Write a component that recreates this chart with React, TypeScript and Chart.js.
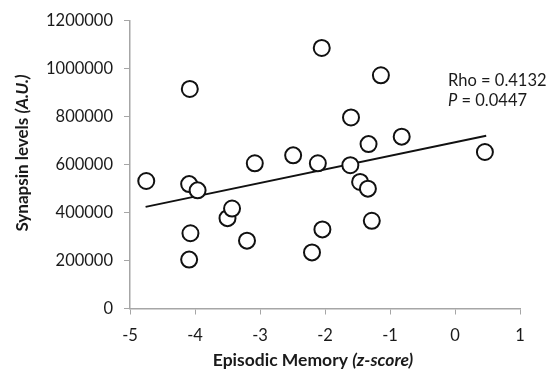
import React, { useEffect, useRef } from "react";
import { Chart, registerables } from "chart.js";

Chart.register(...registerables);

const memoryX = [
  -4.75, -4.08, -4.09, -3.96, -4.07, -4.09, -3.5, -3.43, -3.2, -3.08, -2.05, -1.14,
  -1.6, -1.33, -0.82, -2.49, -2.11, -1.61, -1.46, -1.34, 0.46, -1.28, -2.04, -2.2,
];
const synapsinY = [
  532000, 916000, 519000, 493000, 314000, 204000, 377000, 417000, 283000, 606000,
  1087000, 973000, 797000, 686000, 717000, 639000, 606000, 598000, 528000, 500000,
  653000, 366000, 330000, 234000,
];
const trendX = [-4.76, 0.48];
const trendY = [424000, 721000];
const xTicks = [-5, -4, -3, -2, -1, 0, 1];
const yTicks = [0, 200000, 400000, 600000, 800000, 1000000, 1200000];
const statLines = [
  { label: "Rho", value: "0.4132", italic: false },
  { label: "P", value: "0.0447", italic: true },
];

const FONT = "Lato, 'Open Sans', sans-serif";
const AXIS_COLOR = "#a6a6a6";
const TEXT_COLOR = "#1a1a1a";

const textPlugin = {
  id: "customText",
  afterDraw(chart: any) {
    const ctx = chart.ctx as CanvasRenderingContext2D;
    ctx.save();
    ctx.fillStyle = TEXT_COLOR;
    ctx.textBaseline = "alphabetic";
    // x axis title
    const p1 = "Episodic Memory ";
    const p2 = "(z-score)";
    ctx.font = `bold 17.5px ${FONT}`;
    const w1 = ctx.measureText(p1).width;
    ctx.font = `italic bold 17.5px ${FONT}`;
    const w2 = ctx.measureText(p2).width;
    const cx = 313;
    const sx = cx - (w1 + w2) / 2;
    const xb = 366;
    ctx.font = `bold 17.5px ${FONT}`;
    ctx.fillText(p1, sx, xb);
    ctx.font = `italic bold 17.5px ${FONT}`;
    ctx.fillText(p2, sx + w1, xb);
    // y axis title
    const q1 = "Synapsin levels ";
    const q2 = "(A.U.)";
    ctx.font = `bold 17px ${FONT}`;
    const v1 = ctx.measureText(q1).width;
    ctx.font = `italic bold 17px ${FONT}`;
    const v2 = ctx.measureText(q2).width;
    ctx.translate(28, 153);
    ctx.rotate(-Math.PI / 2);
    const sy = -(v1 + v2) / 2;
    ctx.font = `bold 17px ${FONT}`;
    ctx.fillText(q1, sy, 0);
    ctx.font = `italic bold 17px ${FONT}`;
    ctx.fillText(q2, sy + v1, 0);
    ctx.restore();
    // stats
    ctx.save();
    ctx.fillStyle = TEXT_COLOR;
    let y = 86;
    for (const s of statLines) {
      let x = 448;
      ctx.font = `${s.italic ? "italic " : ""}16.5px ${FONT}`;
      ctx.fillText(s.label, x, y);
      x += ctx.measureText(s.label).width;
      ctx.font = `16.5px ${FONT}`;
      const rest = " = " + s.value;
      ctx.fillText(rest, x, y);
      y += 20;
    }
    ctx.restore();
  },
};

export default function App() {
  const ref = useRef<HTMLCanvasElement | null>(null);
  useEffect(() => {
    document.body.style.margin = "0";
    const canvas = ref.current!;
    const chart = new Chart(canvas, {
      type: "scatter",
      data: {
        datasets: [
          {
            label: "Subjects",
            data: memoryX.map((x, i) => ({ x, y: synapsinY[i] })),
            pointRadius: 8,
            pointBorderWidth: 2,
            pointBackgroundColor: "#ffffff",
            pointBorderColor: "#111111",
            order: 1,
          },
          {
            type: "line",
            label: "Trend",
            data: trendX.map((x, i) => ({ x, y: trendY[i] })),
            borderColor: "#111111",
            borderWidth: 2,
            pointRadius: 0,
            showLine: true,
            fill: false,
            order: 2,
          } as any,
        ],
      },
      options: {
        responsive: false,
        animation: false,
        events: [],
        layout: { padding: { top: 18, right: 30, left: 0, bottom: 0 } },
        plugins: { legend: { display: false }, tooltip: { enabled: false } },
        scales: {
          x: {
            type: "linear",
            min: -5,
            max: 1,
            afterBuildTicks: (s: any) => {
              s.ticks = xTicks.map((v) => ({ value: v }));
            },
            afterFit: (s: any) => {
              s.height = 65.5;
            },
            ticks: {
              font: { family: FONT, size: 16.5 },
              color: TEXT_COLOR,
              padding: 11,
              maxRotation: 0,
              callback: (v: any) => String(v),
            },
            grid: { drawOnChartArea: false, drawTicks: true, tickLength: 6, color: AXIS_COLOR },
            border: { color: AXIS_COLOR, width: 1.5 },
          },
          y: {
            type: "linear",
            min: 0,
            max: 1200000,
            afterBuildTicks: (s: any) => {
              s.ticks = yTicks.map((v) => ({ value: v }));
            },
            afterFit: (s: any) => {
              s.width = 130;
            },
            ticks: {
              font: { family: FONT, size: 16.5 },
              color: TEXT_COLOR,
              padding: 11,
              callback: (v: any) => String(v),
            },
            grid: { drawOnChartArea: false, drawTicks: true, tickLength: 6, color: AXIS_COLOR },
            border: { color: AXIS_COLOR, width: 1.5 },
          },
        },
      },
      plugins: [textPlugin],
    });
    return () => chart.destroy();
  }, []);
  return (
    <div style={{ position: "absolute", left: 0, top: 0, width: 550, height: 374, background: "#fff" }}>
      <canvas ref={ref} width={550} height={374} style={{ width: 550, height: 374, display: "block" }} />
    </div>
  );
}
